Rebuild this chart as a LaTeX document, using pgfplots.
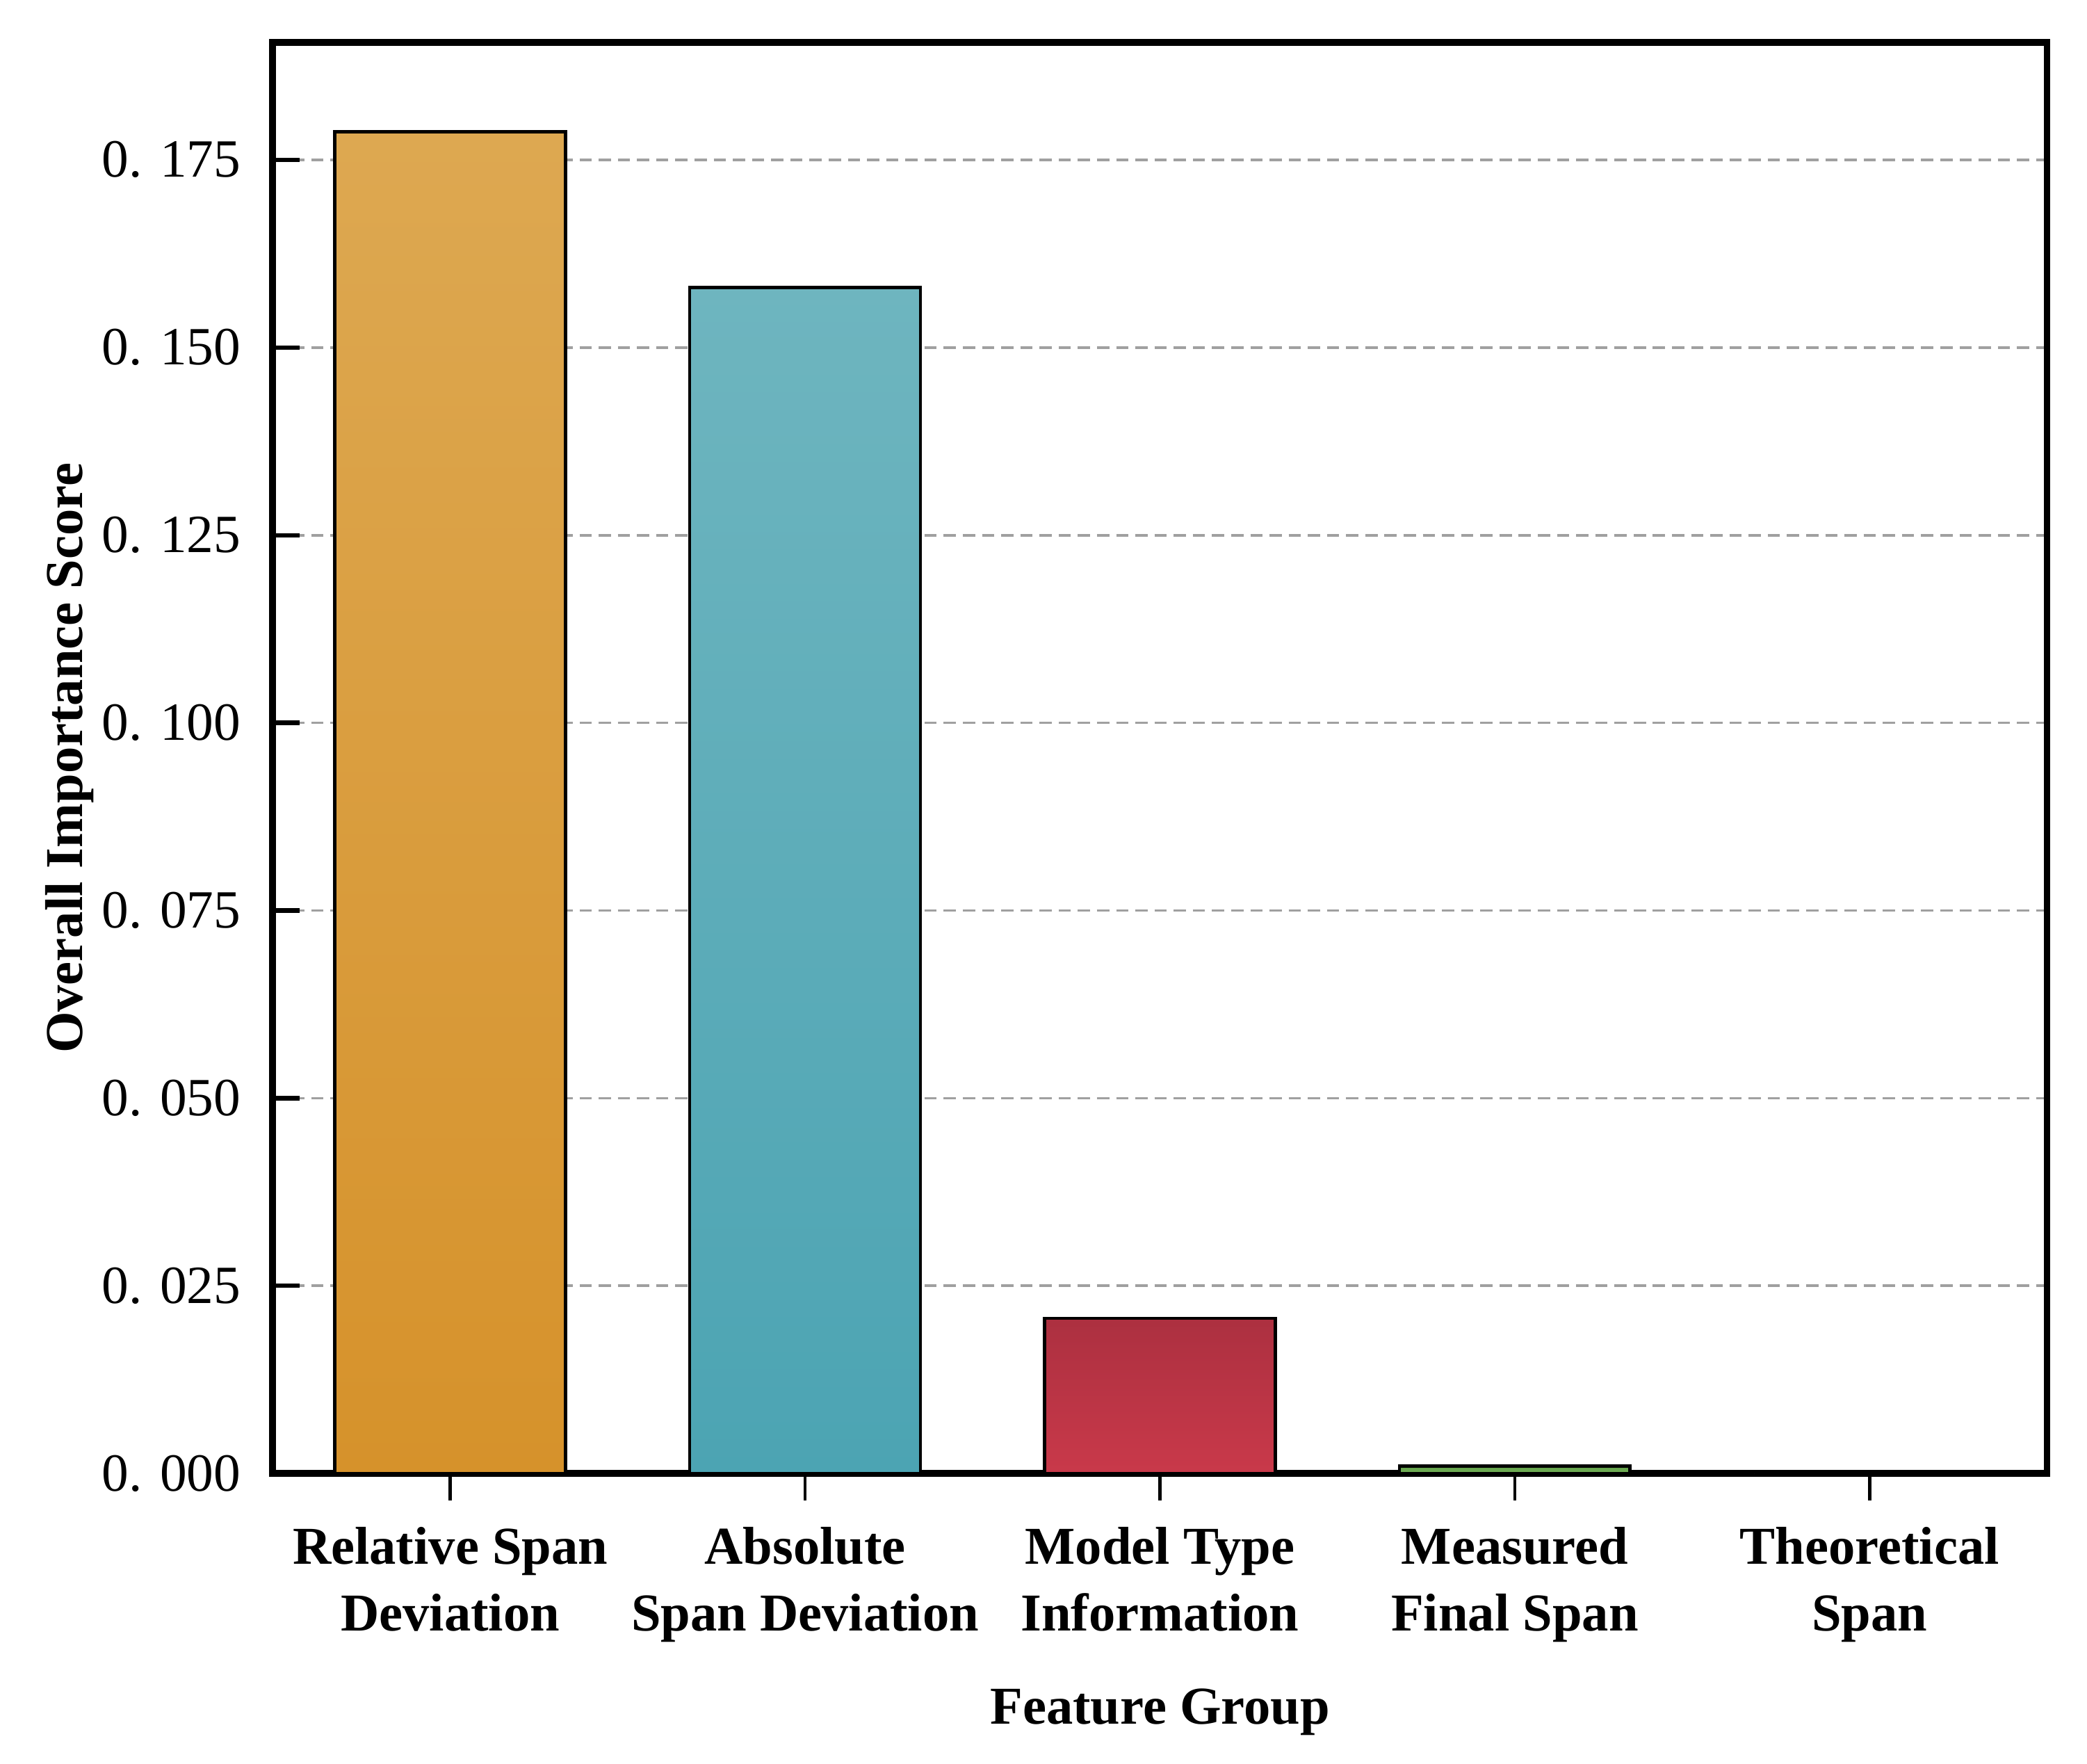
\documentclass[border=0pt]{standalone}
\usepackage{pgfplots}
\pgfplotsset{compat=1.18}
\usepackage{fontspec}
\setmainfont{Liberation Serif}
\definecolor{relTop}{HTML}{DDA851}
\definecolor{relBot}{HTML}{D6922B}
\definecolor{absTop}{HTML}{6EB5BF}
\definecolor{absBot}{HTML}{4CA4B3}
\definecolor{modTop}{HTML}{AC3040}
\definecolor{modBot}{HTML}{C9394A}
\definecolor{grnTop}{HTML}{5E9E48}
\definecolor{grnBot}{HTML}{78B55A}
\definecolor{gridc}{HTML}{A0A0A0}
\begin{document}
\begin{tikzpicture}
\path[use as bounding box] (-51.25pt,-54.5pt) rectangle (340.75pt,276.75pt);
\begin{axis}[
  at={(0pt,0pt)}, anchor=south west,
  scale only axis, width=333.25pt, height=268.75pt,
  xmin=-0.5, xmax=4.5, ymin=0, ymax=0.1906,
  xtick={0,1,2,3,4},
  xticklabels={{Relative Span\\Deviation},{Absolute\\Span Deviation},{Model Type\\Information},{Measured\\Final Span},{Theoretical\\Span}},
  ytick={0,0.025,0.05,0.075,0.1,0.125,0.15,0.175},
  yticklabels={0. 000,0. 025,0. 050,0. 075,0. 100,0. 125,0. 150,0. 175},
  xtick pos=bottom, ytick pos=left,
  tick align=inside,
  major tick length=5pt,
  xtick style={line width=0.6pt, black, yshift=-5pt},
  ytick style={line width=0.8pt, black},
  axis line style={line width=1.3pt},
  xticklabel style={align=center, font=\bfseries\fontsize{10}{12.5}\selectfont, yshift=-6.5pt},
  yticklabel style={xshift=-2.5pt, font=\fontsize{10.1}{12}\selectfont},
  ymajorgrids,
  major grid style={gridc, line width=0.5pt, dash pattern=on 2.3pt off 1.3pt},
  xlabel={\bfseries Feature Group},
  xlabel style={at={(axis description cs:0.5,-0.1749)}, anchor=base},
  ylabel={\bfseries Overall Importance Score},
  ylabel style={at={(axis description cs:-0.1073,0.5)}, anchor=base, rotate=0},
]
\addplot[ybar, bar width=0.65, bar shift=0pt, draw=black, line width=0.6pt, top color=relTop, bottom color=relBot] coordinates {(0,0.1787)};
\addplot[ybar, bar width=0.65, bar shift=0pt, draw=black, line width=0.6pt, top color=absTop, bottom color=absBot] coordinates {(1,0.1580)};
\addplot[ybar, bar width=0.65, bar shift=0pt, draw=black, line width=0.6pt, top color=modTop, bottom color=modBot] coordinates {(2,0.0207)};
\addplot[ybar, bar width=0.65, bar shift=0pt, draw=black, line width=0.6pt, top color=grnTop, bottom color=grnBot] coordinates {(3,0.0010)};
\addplot[ybar, bar width=0.65, bar shift=0pt, draw=black, line width=0.6pt, fill=white] coordinates {(4,0.0)};
\end{axis}
\end{tikzpicture}
\end{document}
